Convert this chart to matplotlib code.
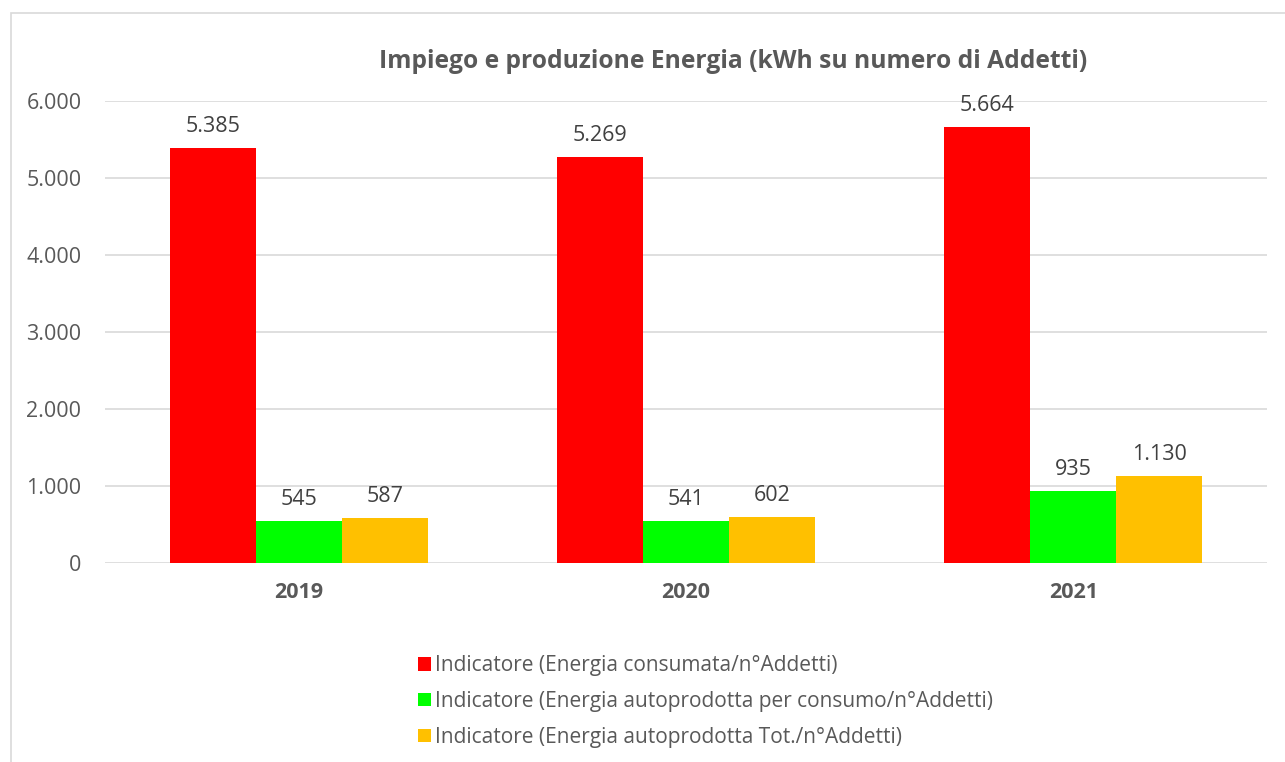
import matplotlib
matplotlib.use('Agg')
import matplotlib.pyplot as plt
from matplotlib.ticker import FuncFormatter
from matplotlib.patches import Rectangle
import numpy as np

plt.rcParams['font.family'] = ['Open Sans', 'DejaVu Sans']

# dati
anni = ['2019', '2020', '2021']
consumata = [5385, 5269, 5664]
autoprod_consumo = [545, 541, 935]
autoprod_tot = [587, 602, 1130]
serie_nomi = ['Indicatore (Energia consumata/n°Addetti)',
              'Indicatore (Energia autoprodotta per consumo/n°Addetti)',
              'Indicatore (Energia autoprodotta Tot./n°Addetti)']
colori = ['#ff0000', '#00ff00', '#ffc000']
TXT = '#595959'

def fmt(v, pos=None):
    return f'{int(v):,}'.replace(',', '.')

W, H = 1285, 762
fig = plt.figure(figsize=(W/100, H/100), dpi=100)
fig.patches.append(Rectangle((11/W, -0.1), 1.2, 1 - 13/H + 0.1, transform=fig.transFigure,
                             fill=False, ec='#d9d9d9', lw=1.2))

ax = fig.add_axes([105/W, 1 - 563/H, 1162/W, 462/H])
x = np.arange(len(anni))
bw = 0.222
serie = [consumata, autoprod_consumo, autoprod_tot]
for i, (vals, c, nome) in enumerate(zip(serie, colori, serie_nomi)):
    bars = ax.bar(x + (i - 1) * bw, vals, bw, color=c, label=nome, zorder=3)
    ax.bar_label(bars, labels=[fmt(v) for v in vals], padding=8,
                 fontsize=15.5, color='#404040')

ax.set_xlim(-0.5, 2.5)
ax.set_ylim(0, 6000)
ax.set_yticks(range(0, 6001, 1000))
ax.yaxis.set_major_formatter(FuncFormatter(fmt))
ax.set_xticks(x)
ax.set_xticklabels(anni, fontweight='bold')
ax.tick_params(axis='both', length=0, labelsize=15.5, colors=TXT)
ax.tick_params(axis='y', pad=17)
ax.tick_params(axis='x', pad=14)
ax.grid(axis='y', color='#d9d9d9', lw=1.2, zorder=0)
for s in ax.spines.values():
    s.set_visible(False)

fig.text(733/W, 1 - 62/H, 'Impiego e produzione Energia (kWh su numero di Addetti)',
         ha='center', va='center', fontsize=17.7, fontweight='bold', color=TXT)

leg = fig.legend(loc='upper left', bbox_to_anchor=(408/W, 1 - 645/H), frameon=False,
                 fontsize=15, handlelength=0.6, handleheight=0.6, handletextpad=0.2,
                 labelspacing=0.7, borderpad=0)
for t in leg.get_texts():
    t.set_color(TXT)

fig.savefig('out.png', dpi=100, facecolor='white')
